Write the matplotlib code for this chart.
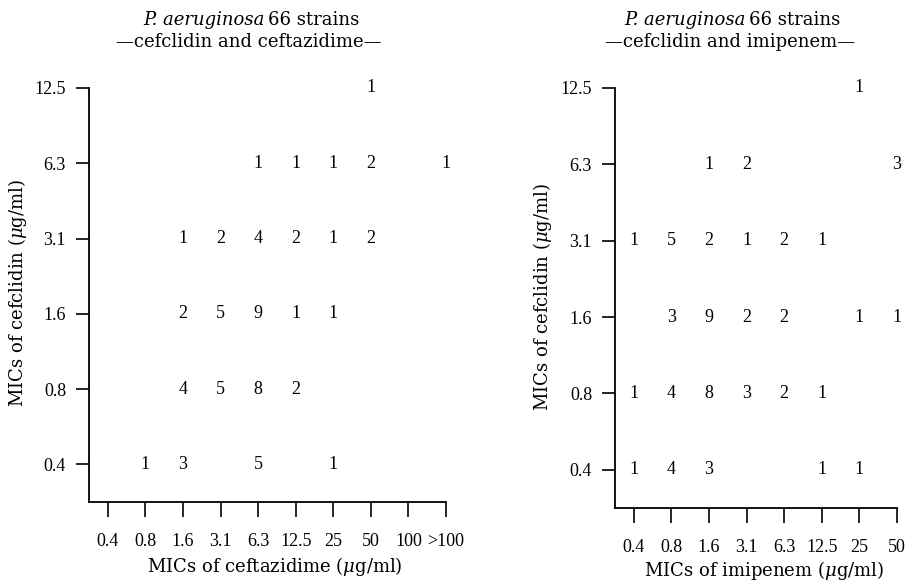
import matplotlib
matplotlib.use("Agg")
import matplotlib.pyplot as plt
import numpy as np

plt.rcParams['font.family'] = ['Liberation Serif', 'DejaVu Serif']
plt.rcParams['mathtext.fontset'] = 'dejavuserif'

# ---- data ----
y_cats = ["0.4", "0.8", "1.6", "3.1", "6.3", "12.5"]          # MICs of cefclidin
x_cats_caz = ["0.4", "0.8", "1.6", "3.1", "6.3", "12.5", "25", "50", "100", ">100"]
x_cats_ipm = ["0.4", "0.8", "1.6", "3.1", "6.3", "12.5", "25", "50"]

# rows = cefclidin MIC (0.4 ... 12.5), cols = comparator MIC; 0 = empty
counts_caz = [
    [0, 1, 3, 0, 5, 0, 1, 0, 0, 0],   # 0.4
    [0, 0, 4, 5, 8, 2, 0, 0, 0, 0],   # 0.8
    [0, 0, 2, 5, 9, 1, 1, 0, 0, 0],   # 1.6
    [0, 0, 1, 2, 4, 2, 1, 2, 0, 0],   # 3.1
    [0, 0, 0, 0, 1, 1, 1, 2, 0, 1],   # 6.3
    [0, 0, 0, 0, 0, 0, 0, 1, 0, 0],   # 12.5
]
counts_ipm = [
    [1, 4, 3, 0, 0, 1, 1, 0],   # 0.4
    [1, 4, 8, 3, 2, 1, 0, 0],   # 0.8
    [0, 3, 9, 2, 2, 0, 1, 1],   # 1.6
    [1, 5, 2, 1, 2, 1, 0, 0],   # 3.1
    [0, 0, 1, 2, 0, 0, 0, 3],   # 6.3
    [0, 0, 0, 0, 0, 0, 1, 0],   # 12.5
]

W, H = 916, 585
fig = plt.figure(figsize=(W / 100, H / 100), dpi=100)

FS_NUM = 13
FS_LAB = 13
LAB_FONT = ['DejaVu Serif']


def axes_px(x0, x1, ytop, ybot):
    return [x0 / W, 1 - ybot / H, (x1 - x0) / W, (ybot - ytop) / H]


def panel(rect, x_cats, counts, drug, title_split_px, line2_cx, xlabel_xy, ylabel_xy):
    ax = fig.add_axes(rect)
    ax.set_xlim(-0.5, len(x_cats) - 1)
    ax.set_ylim(-0.5, len(y_cats) - 1)
    for s in ("top", "right"):
        ax.spines[s].set_visible(False)
    for s in ("left", "bottom"):
        ax.spines[s].set_linewidth(1.3)
    ax.set_xticks(range(len(x_cats)))
    ax.set_xticklabels(x_cats, fontsize=FS_NUM)
    ax.set_yticks(range(len(y_cats)))
    ax.set_yticklabels(y_cats, fontsize=FS_NUM)
    ax.tick_params(axis="x", direction="out", length=11, width=1.2, pad=11)
    ax.tick_params(axis="y", direction="out", length=9.5, width=1.2, pad=7)
    arr = np.array(counts)
    for i in range(arr.shape[0]):
        for j in range(arr.shape[1]):
            if arr[i, j] > 0:
                ax.text(j, i, str(arr[i, j]), ha="center", va="center",
                        fontsize=FS_NUM)
    # titles
    sx = title_split_px / W
    fig.text(sx - 0.002, 1 - 20 / H, "P. aeruginosa", style="italic",
             ha="right", va="center", fontsize=FS_LAB, family=LAB_FONT)
    fig.text(sx + 0.002, 1 - 20 / H, "66 strains", ha="left", va="center",
             fontsize=FS_LAB, family=LAB_FONT)
    fig.text(line2_cx / W, 1 - 42 / H,
             "\u2014cefclidin and " + drug + "\u2014", ha="center",
             va="center", fontsize=FS_LAB, family=LAB_FONT)
    fig.text(xlabel_xy[0] / W, 1 - xlabel_xy[1] / H,
             "MICs of " + drug + r" ($\mu$g/ml)", ha="center", va="center",
             fontsize=FS_LAB, family=LAB_FONT)
    fig.text(ylabel_xy[0] / W, 1 - ylabel_xy[1] / H,
             r"MICs of cefclidin ($\mu$g/ml)", ha="center", va="center",
             rotation=90, fontsize=FS_LAB, family=LAB_FONT)
    return ax


panel(axes_px(89, 446, 88, 502), x_cats_caz, counts_caz, "ceftazidime",
      266, 249, (275, 567), (18, 293))
panel(axes_px(615, 897, 88, 508), x_cats_ipm, counts_ipm, "imipenem",
      747, 730, (764, 571), (542, 297))

fig.savefig("out.png", dpi=100)
